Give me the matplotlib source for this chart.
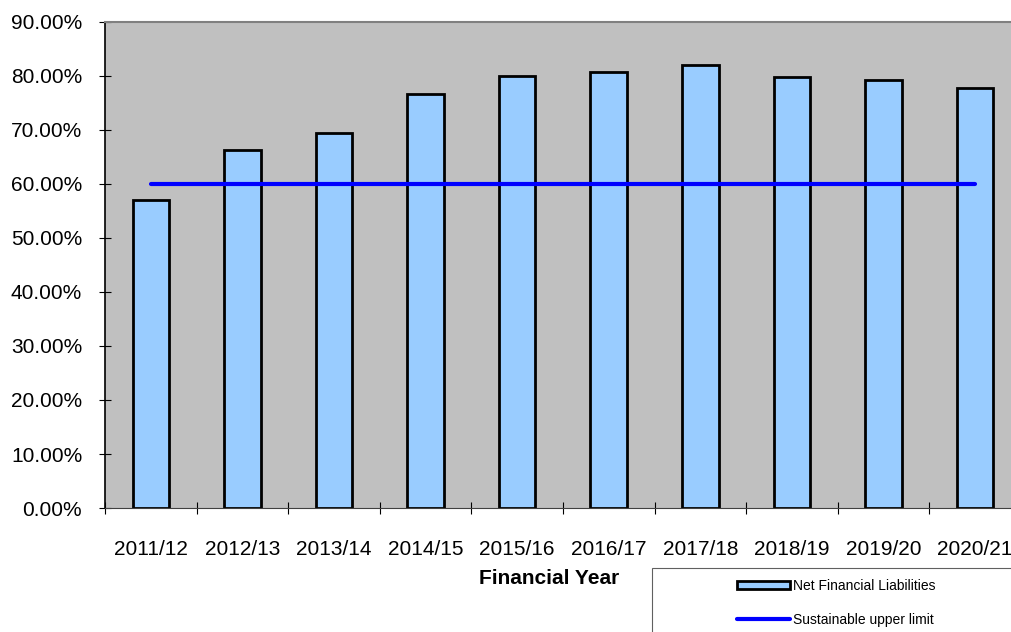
import matplotlib
matplotlib.use('Agg')
import matplotlib.pyplot as plt
from matplotlib.ticker import PercentFormatter, FixedLocator
from matplotlib.patches import Rectangle

plt.rcParams['font.family'] = ['Liberation Sans', 'DejaVu Sans']

years = ['2011/12', '2012/13', '2013/14', '2014/15', '2015/16',
         '2016/17', '2017/18', '2018/19', '2019/20', '2020/21']
net_liab = [0.570, 0.663, 0.694, 0.767, 0.800, 0.807, 0.820, 0.798, 0.793, 0.777]
upper_limit = [0.60] * len(years)

fig = plt.figure(figsize=(10.12, 6.32), dpi=100)
ax = fig.add_axes([0.1038, 0.1962, 0.905, 0.769])
ax.set_facecolor('#C0C0C0')

x = range(len(years))
bars = ax.bar(x, net_liab, width=0.4, color='#99CCFF', edgecolor='black', linewidth=2,
              label='Net Financial Liabilities', zorder=2)
line, = ax.plot(x, upper_limit, color='#0000FF', linewidth=3, solid_capstyle='round',
                label='Sustainable upper limit', zorder=3)

ax.set_xlim(-0.5, len(years) - 0.5)
ax.set_ylim(0, 0.9)
ax.yaxis.set_major_locator(FixedLocator([i / 10 for i in range(10)]))
ax.yaxis.set_major_formatter(PercentFormatter(xmax=1, decimals=2))
ax.set_xticks(list(x))
ax.set_xticklabels(years)
ax.set_xticks([i - 0.5 for i in range(len(years) + 1)], minor=True)
ax.tick_params(axis='x', which='major', length=0, pad=23, labelsize=15)
ax.tick_params(axis='x', which='minor', direction='inout', length=9, width=0.8)
ax.tick_params(axis='y', direction='inout', length=9, width=0.8, pad=12, labelsize=15)

ax.spines['left'].set_color('black')
ax.spines['left'].set_linewidth(1.2)
ax.spines['bottom'].set_color('#404040')
ax.spines['top'].set_color('#808080')
ax.spines['top'].set_linewidth(1.5)

fig.text(549 / 1012, 1 - 579 / 632, 'Financial Year', ha='center', va='center',
         fontsize=15, fontweight='bold')

# legend box runs off the edge of the figure, like the original
fig.patches.append(Rectangle((652 / 1012, -0.05), 0.5, 1 - 568 / 632 + 0.05,
                             transform=fig.transFigure, facecolor='white',
                             edgecolor='#606060', linewidth=0.8))
fig.legend([bars, line], ['Net Financial Liabilities', 'Sustainable upper limit'],
           loc='upper left', bbox_to_anchor=(725 / 1012, 1 - 566 / 632),
           frameon=False, fontsize=10, handlelength=3.8, handleheight=0.5,
           handletextpad=0.2, labelspacing=1.45)

fig.savefig('out.png', dpi=100)
